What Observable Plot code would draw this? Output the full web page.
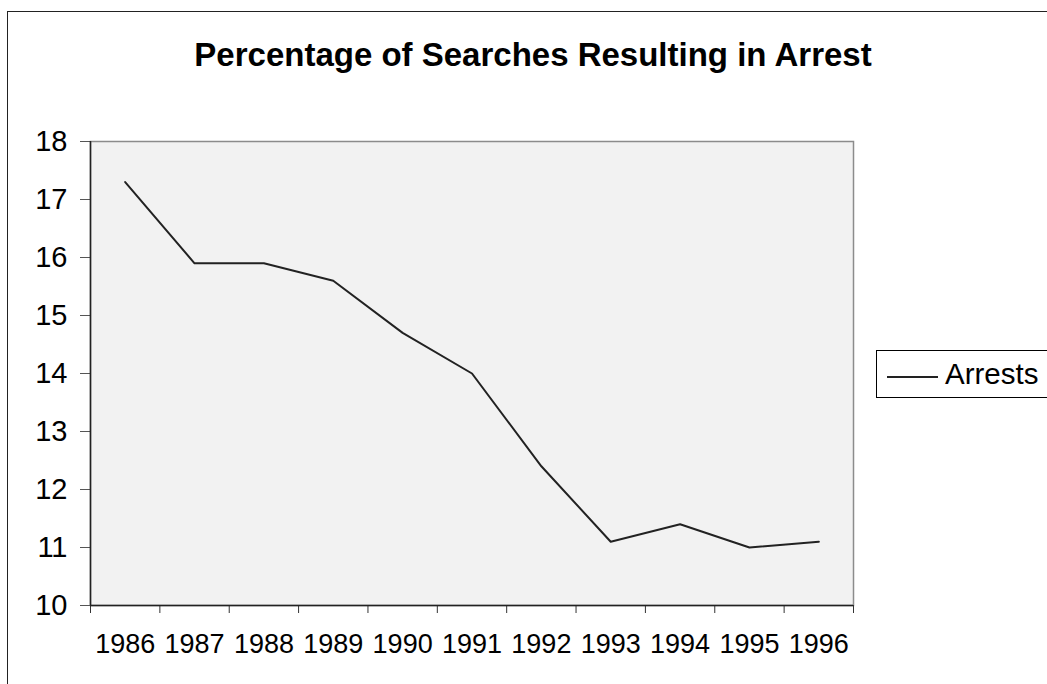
<!DOCTYPE html>
<html>
<head>
<meta charset="utf-8">
<script src="https://cdn.jsdelivr.net/npm/d3@7"></script>
<script src="https://cdn.jsdelivr.net/npm/@observablehq/plot@0.6"></script>
<style>
  html, body { margin: 0; padding: 0; width: 1047px; height: 684px; overflow: hidden; background: #fff; font-family: "Liberation Sans", Arial, sans-serif; }
  #frame { position: absolute; left: 7px; top: 11px; width: 1200px; height: 900px; border: 1.5px solid #222; box-sizing: border-box; }
  #title { position: absolute; left: 0; width: 1066px; top: 38px; line-height: 33px; text-align: center; font-weight: bold; font-size: 33px; color: #000; white-space: nowrap; }
  #chart { position: absolute; left: 0; top: 0; }
  #legend { position: absolute; left: 876px; top: 350px; width: 200px; height: 48px; border: 1px solid #000; box-sizing: border-box; background: #fff; }
  #legend .sw { position: absolute; left: 10px; top: 25px; width: 51px; height: 0; border-top: 2px solid #222; }
  #legend .lab { position: absolute; left: 68px; top: 7px; font-size: 29.5px; line-height: 32px; color: #000; }
</style>
</head>
<body>
<div id="frame"></div>
<div id="title">Percentage of Searches Resulting in Arrest</div>
<div id="chart"></div>
<div id="legend"><div class="sw"></div><div class="lab">Arrests</div></div>
<script>
const years = [1986, 1987, 1988, 1989, 1990, 1991, 1992, 1993, 1994, 1995, 1996];
const arrests = [17.3, 15.9, 15.9, 15.6, 14.7, 14.0, 12.4, 11.1, 11.4, 11.0, 11.1];
const yTicks = [10, 11, 12, 13, 14, 15, 16, 17, 18];
const seriesName = "Arrests";

const data = years.map((y, i) => ({year: y, value: arrests[i], series: seriesName}));
const boundaries = years.map(y => y - 0.5).concat([years[years.length - 1] + 0.5]);

const chart = Plot.plot({
  width: 1047,
  height: 684,
  marginLeft: 90,
  marginRight: 194,
  marginTop: 141,
  marginBottom: 79,
  style: {fontFamily: "'Liberation Sans', Arial, sans-serif", fontSize: "27px", color: "#000", background: "transparent", overflow: "visible"},
  x: {domain: [years[0] - 0.5, years[years.length - 1] + 0.5]},
  y: {domain: [10, 18]},
  marks: [
    Plot.frame({fill: "#f2f2f2", stroke: "#8c8c8c", strokeWidth: 1.5}),
    Plot.axisX({ticks: boundaries, tickFormat: () => "", tickSize: 8, stroke: "#333", label: null}),
    Plot.axisX({ticks: years, tickFormat: d => String(d), tickSize: 0, tickPadding: 28, fontSize: 27, fill: "#000", label: null}),
    Plot.axisY({ticks: yTicks, tickSize: 10, tickPadding: 13, stroke: "#555", fontSize: 29, fill: "#000", label: null}),
    Plot.ruleX([years[0] - 0.5], {stroke: "#222", strokeWidth: 1.5}),
    Plot.ruleY([10], {stroke: "#222", strokeWidth: 1.5}),
    Plot.line(data, {x: "year", y: "value", stroke: "#222", strokeWidth: 2})
  ]
});
document.getElementById("chart").appendChild(chart);
</script>
</body>
</html>
